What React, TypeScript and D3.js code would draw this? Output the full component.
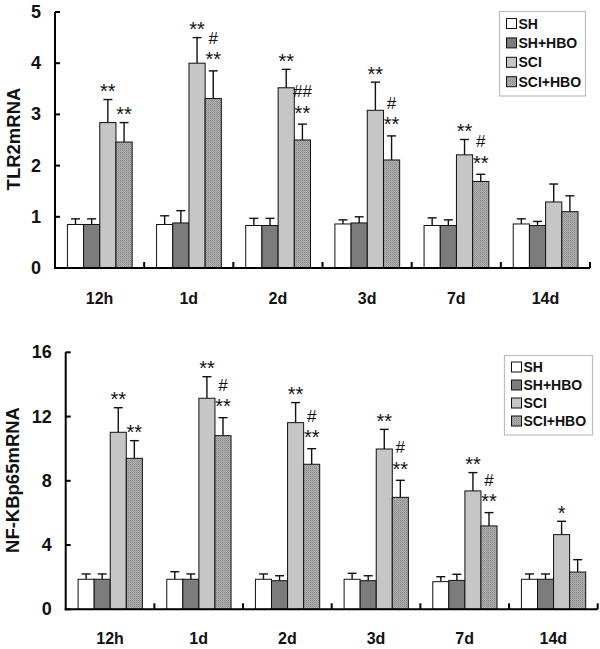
import React from "react";
import * as d3 from "d3";

const categories = ["12h", "1d", "2d", "3d", "7d", "14d"];
const seriesNames = ["SH", "SH+HBO", "SCI", "SCI+HBO"];

// TLR2 mRNA (means and upper SD)
const tlrSH = [0.85, 0.85, 0.83, 0.86, 0.83, 0.86];
const tlrSHsd = [0.11, 0.17, 0.14, 0.08, 0.15, 0.1];
const tlrSHHBO = [0.85, 0.88, 0.83, 0.88, 0.83, 0.83];
const tlrSHHBOsd = [0.11, 0.24, 0.14, 0.12, 0.11, 0.08];
const tlrSCI = [2.84, 4.0, 3.52, 3.08, 2.21, 1.29];
const tlrSCIsd = [0.45, 0.5, 0.36, 0.55, 0.3, 0.35];
const tlrSCIHBO = [2.46, 3.31, 2.5, 2.11, 1.69, 1.1];
const tlrSCIHBOsd = [0.38, 0.54, 0.31, 0.47, 0.14, 0.31];
const tlrSCIstars = ["**", "**", "**", "**", "**", ""];
const tlrSCIHBOstars = ["**", "**", "**", "**", "**", ""];
const tlrSCIHBOhash = ["", "#", "##", "#", "#", ""];
const tlrTicks = [0, 1, 2, 3, 4, 5];

// NF-KBp65 mRNA
const nfSH = [1.87, 1.87, 1.87, 1.87, 1.72, 1.87];
const nfSHsd = [0.33, 0.47, 0.33, 0.37, 0.31, 0.33];
const nfSHHBO = [1.87, 1.87, 1.78, 1.78, 1.8, 1.87];
const nfSHHBOsd = [0.33, 0.33, 0.31, 0.31, 0.38, 0.33];
const nfSCI = [11.02, 13.14, 11.62, 9.98, 7.37, 4.65];
const nfSCIsd = [1.53, 1.34, 1.25, 1.22, 1.14, 0.83];
const nfSCIHBO = [9.4, 10.81, 9.03, 6.97, 5.19, 2.32];
const nfSCIHBOsd = [1.1, 1.12, 0.97, 1.06, 0.83, 0.77];
const nfSCIstars = ["**", "**", "**", "**", "**", "*"];
const nfSCIHBOstars = ["**", "**", "**", "**", "**", ""];
const nfSCIHBOhash = ["", "#", "#", "#", "#", ""];
const nfTicks = [0, 4, 8, 12, 16];

const FONT = "Arial, 'Liberation Sans', sans-serif";
const fills = ["#ffffff", "#7c7c7c", "#c6c6c6", "url(#hatch)"];

type Panel = {
  label: string;
  means: number[][];
  sds: number[][];
  stars: string[][]; // per series (only SCI, SCI+HBO used)
  hash: string[];
  ticks: number[];
  yMax: number;
  x0: number;
  x1: number;
  yTop: number;
  yBottom: number;
  labelX: number;
  labelY: number;
  xLabelY: number;
  legend: { x: number; y: number; w: number; h: number; row0: number; step: number };
};

function ChartPanel({ p }: { p: Panel }) {
  const x = d3.scaleBand<string>().domain(categories).range([p.x0, p.x1]).padding(0);
  const bw = x.bandwidth();
  const inner = d3
    .scaleBand<string>()
    .domain(seriesNames)
    .range([12.4, bw - 12.0])
    .padding(0);
  const y = d3.scaleLinear().domain([0, p.yMax]).range([p.yBottom, p.yTop]);
  const w = inner.bandwidth();

  return (
    <g>
      {/* bars */}
      {seriesNames.map((s, si) =>
        categories.map((c, ci) => {
          const m = p.means[si][ci];
          const sd = p.sds[si][ci];
          const bx = (x(c) as number) + (inner(s) as number);
          const cx = bx + w / 2;
          return (
            <g key={s + c}>
              <line x1={cx} x2={cx} y1={y(m)} y2={y(m + sd)} stroke="#111" strokeWidth={1.4} />
              <line x1={cx - 4.5} x2={cx + 4.5} y1={y(m + sd)} y2={y(m + sd)} stroke="#111" strokeWidth={1.4} />
              <rect x={bx} y={y(m)} width={w} height={y(0) - y(m)} fill={fills[si]} stroke="#111" strokeWidth={1} />
            </g>
          );
        })
      )}
      {/* annotations */}
      {categories.map((c, ci) => {
        const out: React.ReactNode[] = [];
        [2, 3].forEach((si) => {
          const s = seriesNames[si];
          const cx = (x(c) as number) + (inner(s) as number) + w / 2;
          const top = y(p.means[si][ci] + p.sds[si][ci]);
          const st = p.stars[si][ci];
          const hs = si === 3 ? p.hash[ci] : "";
          if (st) {
            out.push(
              <text key={"s" + si} x={cx} y={top + (hs ? -4.5 : -1.5) + 11} fontFamily={FONT} fontSize={20} textAnchor="middle" fill="#111" dominantBaseline="auto" transform={`translate(0,-11)`}>
                {st}
              </text>
            );
          }
          if (hs) {
            out.push(
              <text key={"h" + si} x={cx} y={top - 27} fontFamily={FONT} fontSize={17} textAnchor="middle" fill="#111">
                {hs}
              </text>
            );
          }
        });
        return <g key={"a" + c}>{out}</g>;
      })}
      {/* axes */}
      <line x1={p.x0} x2={p.x0} y1={p.yTop} y2={p.yBottom + 1} stroke="#000" strokeWidth={2} />
      <line x1={p.x0 - 1} x2={p.x1} y1={p.yBottom} y2={p.yBottom} stroke="#000" strokeWidth={2} />
      {categories.map((c, ci) => {
        const xr = (x(c) as number) + bw;
        return <line key={"sep" + ci} x1={xr} x2={xr} y1={p.yBottom} y2={p.yBottom - 6} stroke="#000" strokeWidth={2} />;
      })}
      {p.ticks.map((t) => (
        <g key={"t" + t}>
          <line x1={p.x0} x2={p.x0 + 5} y1={y(t)} y2={y(t)} stroke="#000" strokeWidth={2} />
          <text x={p.x0 - 14} y={y(t)} fontFamily={FONT} fontWeight="bold" fontSize={18} textAnchor="end" dominantBaseline="central" fill="#111">
            {t}
          </text>
        </g>
      ))}
      {categories.map((c) => (
        <text key={"xl" + c} x={(x(c) as number) + bw / 2} y={p.xLabelY} fontFamily={FONT} fontWeight="bold" fontSize={16} textAnchor="middle" dominantBaseline="central" fill="#111">
          {c}
        </text>
      ))}
      <text
        transform={`translate(${p.labelX},${p.labelY}) rotate(-90)`}
        fontFamily={FONT}
        fontWeight="bold"
        fontSize={18.5}
        textAnchor="middle"
        dominantBaseline="central"
        fill="#111"
      >
        {p.label}
      </text>
      {/* legend */}
      <rect x={p.legend.x} y={p.legend.y} width={p.legend.w} height={p.legend.h} fill="#fff" stroke="#bdbdbd" strokeWidth={1.2} />
      {seriesNames.map((s, si) => {
        const cy = p.legend.row0 + si * p.legend.step;
        return (
          <g key={"lg" + s}>
            <rect x={p.legend.x + 7} y={cy - 5} width={10} height={10} fill={fills[si]} stroke="#111" strokeWidth={1} />
            <text x={p.legend.x + 19} y={cy} fontFamily={FONT} fontWeight="bold" fontSize={14} dominantBaseline="central" fill="#111">
              {s}
            </text>
          </g>
        );
      })}
    </g>
  );
}

export default function App() {
  const top: Panel = {
    label: "TLR2mRNA",
    means: [tlrSH, tlrSHHBO, tlrSCI, tlrSCIHBO],
    sds: [tlrSHsd, tlrSHHBOsd, tlrSCIsd, tlrSCIHBOsd],
    stars: [[], [], tlrSCIstars, tlrSCIHBOstars],
    hash: tlrSCIHBOhash,
    ticks: tlrTicks,
    yMax: 5,
    x0: 55,
    x1: 590,
    yTop: 12,
    yBottom: 268,
    labelX: 13,
    labelY: 139,
    xLabelY: 298,
    legend: { x: 499.5, y: 11.5, w: 86, h: 84.5, row0: 23.5, step: 19.4 },
  };
  const bottom: Panel = {
    label: "NF-KBp65mRNA",
    means: [nfSH, nfSHHBO, nfSCI, nfSCIHBO],
    sds: [nfSHsd, nfSHHBOsd, nfSCIsd, nfSCIHBOsd],
    stars: [[], [], nfSCIstars, nfSCIHBOstars],
    hash: nfSCIHBOhash,
    ticks: nfTicks,
    yMax: 16,
    x0: 65.7,
    x1: 597.7,
    yTop: 352.3,
    yBottom: 609.3,
    labelX: 12,
    labelY: 480,
    xLabelY: 638,
    legend: { x: 504.5, y: 355.5, w: 88, h: 79.5, row0: 367, step: 18 },
  };
  return (
    <svg width={600} height={649} style={{ position: "absolute", left: 0, top: 0, background: "#fff" }}>
      <defs>
        <pattern id="hatch" width={2} height={2} patternUnits="userSpaceOnUse">
          <rect width={2} height={2} fill="#b0b0b0" />
          <rect width={1} height={1} fill="#8a8a8a" />
          <rect x={1} y={1} width={1} height={1} fill="#9a9a9a" />
        </pattern>
      </defs>
      <rect width={600} height={649} fill="#fff" />
      <ChartPanel p={top} />
      <ChartPanel p={bottom} />
    </svg>
  );
}
